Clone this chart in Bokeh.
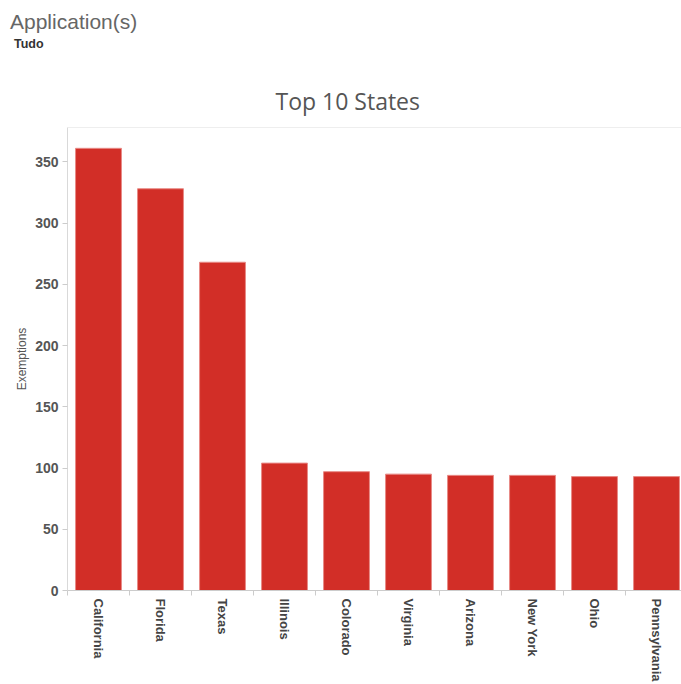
from bokeh.plotting import figure
from bokeh.models import Range1d, FixedTicker, Span, Div, Title
from bokeh.layouts import column
from bokeh.embed import file_html
from bokeh.resources import INLINE

states = ["California", "Florida", "Texas", "Illinois", "Colorado",
          "Virginia", "Arizona", "New York", "Ohio", "Pennsylvania"]
exemptions = [361, 328, 268, 104, 97, 95, 94, 94, 93, 93]
y_ticks = [0, 50, 100, 150, 200, 250, 300, 350]

title_text = "Top 10 States"
header_text = "Application(s)"
filter_text = "Tudo"
y_label = "Exemptions"

xs = list(range(len(states)))
y_max = 378

header = Div(
    text=(
        '<div style="position:relative;width:681px;height:60px;font-family:\'Liberation Sans\',Arial,sans-serif;">'
        f'<div style="position:absolute;left:10px;top:10px;font-size:21px;line-height:normal;color:#666666;white-space:nowrap;">{header_text}</div>'
        f'<div style="position:absolute;left:14px;top:37px;font-size:12.5px;line-height:normal;font-weight:bold;color:#333333;white-space:nowrap;">{filter_text}</div>'
        '</div>'
    ),
    width=681, height=60, margin=(0, 0, 0, 0),
)

p = figure(width=681, height=624, output_backend="svg", toolbar_location=None,
           x_range=Range1d(-0.5, 9.403), y_range=Range1d(0, y_max),
           min_border_left=67, min_border_right=0, min_border_top=67,
           min_border_bottom=92, margin=(0, 0, 0, 0))
p.outline_line_color = None
p.grid.visible = False
p.background_fill_color = "white"

p.title = Title(text=title_text, align="left", offset=208, standoff=22,
                text_font="Open Sans", text_font_size="23px",
                text_font_style="normal", text_color="#555555")

p.vbar(x=xs, top=exemptions, width=0.74, bottom=0,
       fill_color="#d22e27", line_color="#e88a86", line_width=1)

# y axis
p.yaxis.ticker = FixedTicker(ticks=y_ticks)
p.yaxis.axis_line_color = "#d9d9d9"
p.yaxis.major_tick_line_color = "#cccccc"
p.yaxis.major_tick_out = 5
p.yaxis.major_tick_in = 0
p.yaxis.minor_tick_line_color = None
p.yaxis.major_label_standoff = 4
p.yaxis.major_label_text_font = "Liberation Sans"
p.yaxis.major_label_text_font_size = "14px"
p.yaxis.major_label_text_font_style = "bold"
p.yaxis.major_label_text_color = "#555555"
p.yaxis.axis_label = y_label
p.yaxis.axis_label_text_font = "Liberation Sans"
p.yaxis.axis_label_text_font_size = "12px"
p.yaxis.axis_label_text_font_style = "normal"
p.yaxis.axis_label_text_color = "#555555"
p.yaxis.axis_label_standoff = 3

# x axis: labels at centers, small ticks at category boundaries
p.xaxis.ticker = FixedTicker(ticks=xs, minor_ticks=[i - 0.5 for i in range(len(states) + 1)])
p.xaxis.major_label_overrides = {i: s for i, s in zip(xs, states)}
p.xaxis.major_label_orientation = "vertical"
p.xaxis.axis_line_color = "#cccccc"
p.xaxis.major_tick_line_color = None
p.xaxis.major_tick_out = 0
p.xaxis.major_tick_in = 0
p.xaxis.minor_tick_line_color = "#cccccc"
p.xaxis.minor_tick_out = 5
p.xaxis.minor_tick_in = 0
p.xaxis.major_label_standoff = 3
p.xaxis.major_label_text_font = "Liberation Sans"
p.xaxis.major_label_text_font_size = "13px"
p.xaxis.major_label_text_font_style = "bold"
p.xaxis.major_label_text_color = "#444444"

# top border line
p.add_layout(Span(location=y_max, dimension="width", line_color="#dddddd", line_width=1))

layout = column(header, p, spacing=0)
open("out.html", "w").write(file_html(layout, INLINE))
